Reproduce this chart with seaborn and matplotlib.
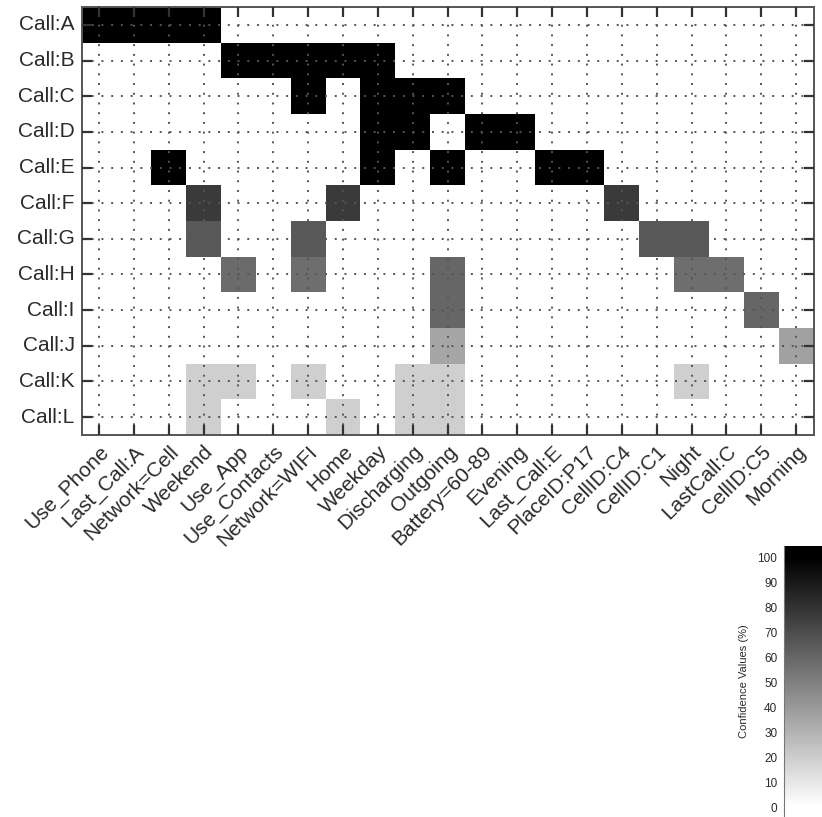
import numpy as np
import pandas as pd
import matplotlib
matplotlib.use("Agg")
import matplotlib.pyplot as plt
import seaborn as sns

# Call classes (rows) and context attributes (columns)
calls = ["Call:A", "Call:B", "Call:C", "Call:D", "Call:E", "Call:F",
         "Call:G", "Call:H", "Call:I", "Call:J", "Call:K", "Call:L"]
attributes = ["Use_Phone", "Last_Call:A", "Network=Cell", "Weekend", "Use_App",
              "Use_Contacts", "Network=WIFI", "Home", "Weekday", "Discharging",
              "Outgoing", "Battery=60-89", "Evening", "Last_Call:E", "PlaceID:P17",
              "CellID:C4", "CellID:C1", "Night", "LastCall:C", "CellID:C5", "Morning"]

# Confidence values (%) of each attribute for every call class
conf_a = [100, 100, 100, 100, 0, 0, 0, 0, 0, 0, 0, 0, 0, 0, 0, 0, 0, 0, 0, 0, 0]
conf_b = [0, 0, 0, 0, 100, 100, 100, 100, 100, 0, 0, 0, 0, 0, 0, 0, 0, 0, 0, 0, 0]
conf_c = [0, 0, 0, 0, 0, 0, 100, 0, 100, 100, 100, 0, 0, 0, 0, 0, 0, 0, 0, 0, 0]
conf_d = [0, 0, 0, 0, 0, 0, 0, 0, 100, 100, 0, 100, 100, 0, 0, 0, 0, 0, 0, 0, 0]
conf_e = [0, 0, 100, 0, 0, 0, 0, 0, 100, 0, 100, 0, 0, 100, 100, 0, 0, 0, 0, 0, 0]
conf_f = [0, 0, 0, 77, 0, 0, 0, 77, 0, 0, 0, 0, 0, 0, 0, 77, 0, 0, 0, 0, 0]
conf_g = [0, 0, 0, 65, 0, 0, 65, 0, 0, 0, 0, 0, 0, 0, 0, 0, 65, 65, 0, 0, 0]
conf_h = [0, 0, 0, 0, 58, 0, 57, 0, 0, 0, 60, 0, 0, 0, 0, 0, 0, 57, 57, 0, 0]
conf_i = [0, 0, 0, 0, 0, 0, 0, 0, 0, 0, 60, 0, 0, 0, 0, 0, 0, 0, 0, 60, 0]
conf_j = [0, 0, 0, 0, 0, 0, 0, 0, 0, 0, 35, 0, 0, 0, 0, 0, 0, 0, 0, 0, 37]
conf_k = [0, 0, 0, 19, 19, 0, 19, 0, 0, 19, 19, 0, 0, 0, 0, 0, 0, 19, 0, 0, 0]
conf_l = [0, 0, 0, 19, 0, 0, 0, 19, 0, 19, 19, 0, 0, 0, 0, 0, 0, 0, 0, 0, 0]

cbar_ticks = [0, 10, 20, 30, 40, 50, 60, 70, 80, 90, 100]

df = pd.DataFrame([conf_a, conf_b, conf_c, conf_d, conf_e, conf_f,
                   conf_g, conf_h, conf_i, conf_j, conf_k, conf_l],
                  index=calls, columns=attributes)

sns.set_style("white")
plt.rcParams["font.family"] = ["Liberation Sans", "DejaVu Sans"]

text_col = "#2a2a2a"
fig = plt.figure(figsize=(8.22, 8.17), dpi=100)
ax = fig.add_axes([0.0993, 0.4676, 0.8904, 0.5238])

sns.heatmap(df, ax=ax, cmap="gray_r", vmin=0, vmax=100, cbar=False,
            linewidths=0, square=False)

# dotted grid through cell centres, drawn over the cells
ax.set_axisbelow(False)
ax.grid(True, color="#555555", linestyle=(0, (1, 4)), linewidth=1.4)

for side in ["top", "bottom", "left", "right"]:
    ax.spines[side].set_visible(True)
    ax.spines[side].set_color("#555555")
    ax.spines[side].set_linewidth(1.4)

ax.tick_params(axis="both", direction="in", length=7, width=1.6,
               color="#333333", top=True, right=True, bottom=True, left=True,
               labeltop=False, labelright=False)
ax.set_yticklabels(calls, rotation=0, fontsize=15, color=text_col)
ax.set_xticklabels(attributes, rotation=45, ha="right", rotation_mode="anchor",
                   fontsize=15, color=text_col)
ax.tick_params(axis="y", pad=5)
ax.tick_params(axis="x", pad=5)
ax.set_xlabel("")
ax.set_ylabel("")

# colour scale bar in the lower right corner
cax = fig.add_axes([0.954, 0.0, 0.06, 0.3317])
grad = np.linspace(-4.0, 104.8, 300)
cax.pcolormesh([0, 1], grad, grad[:-1, None], cmap="gray_r",
               vmin=0, vmax=100, shading="flat")
cax.set_ylim(-4.0, 104.8)
cax.set_xlim(0, 1)
cax.set_xticks([])
cax.set_yticks(cbar_ticks)
cax.set_yticklabels([str(t) for t in cbar_ticks], fontsize=8.5, color=text_col)
cax.tick_params(axis="y", direction="out", length=3, width=1, color="#555555", pad=2)
cax.set_ylabel("Confidence Values (%)", fontsize=8, color=text_col, labelpad=6)
for side in cax.spines:
    cax.spines[side].set_visible(False)
cax.spines["left"].set_visible(True)
cax.spines["left"].set_color("#777777")
cax.spines["left"].set_linewidth(0.8)

fig.savefig("out.png", dpi=100)
